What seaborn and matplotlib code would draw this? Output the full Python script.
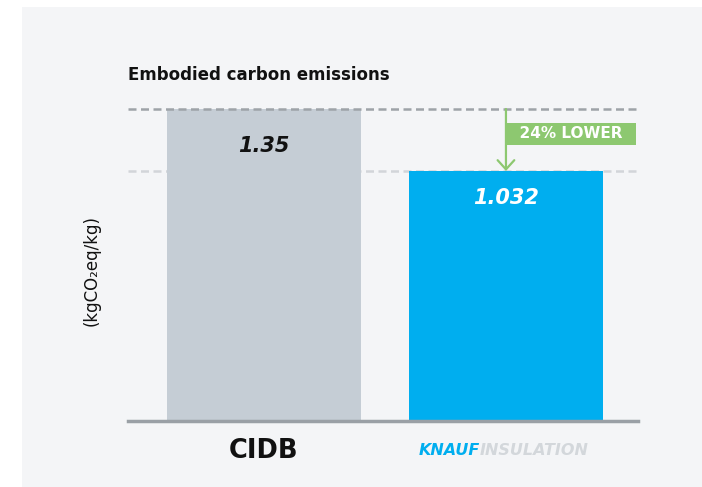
import matplotlib
matplotlib.use('Agg')
import matplotlib.pyplot as plt
import matplotlib.patches as mpatches
import pandas as pd
import seaborn as sns

# Data
categories = ['CIDB', 'Knauf Insulation']
values = [1.35, 1.032]
value_labels = ['1.35', '1.032']
reduction_label = '24% LOWER'
title = 'Embodied carbon emissions'
ylabel = '(kgCO\u2082eq/kg)'

# Palette
PANEL_BG = '#F4F5F7'
CIDB_GREY = '#C5CDD5'
KNAUF_BLUE = '#00AEEF'
GREEN = '#8DC870'
BASE_LINE = '#9AA0A6'

# visual baseline used by the original artwork (bars not drawn from zero)
BASE = -0.25

sns.set_theme(style='white')
plt.rcParams['font.family'] = ['DejaVu Sans']

df = pd.DataFrame({'cat': categories, 'value': values})
df['height'] = df['value'] - BASE

fig = plt.figure(figsize=(7.02, 4.87), dpi=100, facecolor='white')
fig.patches.append(mpatches.Rectangle((22 / 702, 0), 1, 480 / 487,
                                      transform=fig.transFigure,
                                      facecolor=PANEL_BG, edgecolor='none', zorder=-1))

ax = fig.add_axes([128 / 702, 66 / 487, 510 / 702, 312 / 487])
ax.set_facecolor('none')

sns.barplot(data=df, x='cat', y='height', hue='cat',
            palette=[CIDB_GREY, KNAUF_BLUE], width=0.8, bottom=BASE,
            legend=False, saturation=1, linewidth=0, edgecolor='none',
            ax=ax, zorder=2)

ax.set_xlim(-0.56, 1.545)
ax.set_ylim(BASE, values[0])

# reference lines at each value
ax.axhline(values[0], color='#9EA3A8', ls=(0, (3.2, 1.8)), lw=1.8, zorder=3, clip_on=False)
ax.axhline(values[1], color='#D2D5D9', ls=(0, (3.2, 1.8)), lw=1.8, zorder=1)

for spine in ['top', 'right', 'left']:
    ax.spines[spine].set_visible(False)
ax.spines['bottom'].set_color(BASE_LINE)
ax.spines['bottom'].set_linewidth(2.5)
ax.set_yticks([])
ax.set_xlabel('')
ax.set_ylabel('')
ax.tick_params(axis='x', length=0, pad=12)
ax.set_xticks([0, 1])
ax.set_xticklabels(['CIDB', ''], fontsize=18.5, fontweight='bold', color='#111111')

# value labels inside bars
ax.text(0, values[0] - 0.19, value_labels[0], ha='center', va='center',
        fontsize=15, fontweight='bold', style='italic', color='#111111')
ax.text(1, values[1] - 0.138, value_labels[1], ha='center', va='center',
        fontsize=15, fontweight='bold', style='italic', color='white')

# reduction arrow + tag
ax.annotate('', xy=(1, values[1]), xytext=(1, values[0]),
            arrowprops=dict(arrowstyle='->,head_length=0.55,head_width=0.5',
                            color=GREEN, lw=1.6, shrinkA=0, shrinkB=0), zorder=4)
ax.annotate('  ' + reduction_label + '  ', xy=(1, 1.222), xytext=(2.2, 0),
            textcoords='offset points', ha='left', va='center',
            fontsize=11, fontweight='bold', color='white',
            bbox=dict(boxstyle='square,pad=0.2', facecolor=GREEN, edgecolor='none'))

# Knauf Insulation wordmark as tick label
ax.annotate('KNAUF', xy=(1, 0), xycoords=('data', 'axes fraction'),
            xytext=(-18.7, -21), textcoords='offset points', ha='right', va='center',
            fontsize=11.5, fontweight='bold', style='italic', color=KNAUF_BLUE)
ax.annotate('INSULATION', xy=(1, 0), xycoords=('data', 'axes fraction'),
            xytext=(-18.7, -21), textcoords='offset points', ha='left', va='center',
            fontsize=11.5, fontweight='bold', style='italic', color='#D3D7DB')

fig.text(128 / 702, 1 - 75 / 487, title, ha='left', va='center',
         fontsize=12, fontweight='bold', color='#111111')
fig.text(92 / 702, 1 - 270 / 487, ylabel, rotation=90, ha='center', va='center',
         fontsize=12, color='#111111')

fig.savefig('out.png', dpi=100, facecolor='white')
